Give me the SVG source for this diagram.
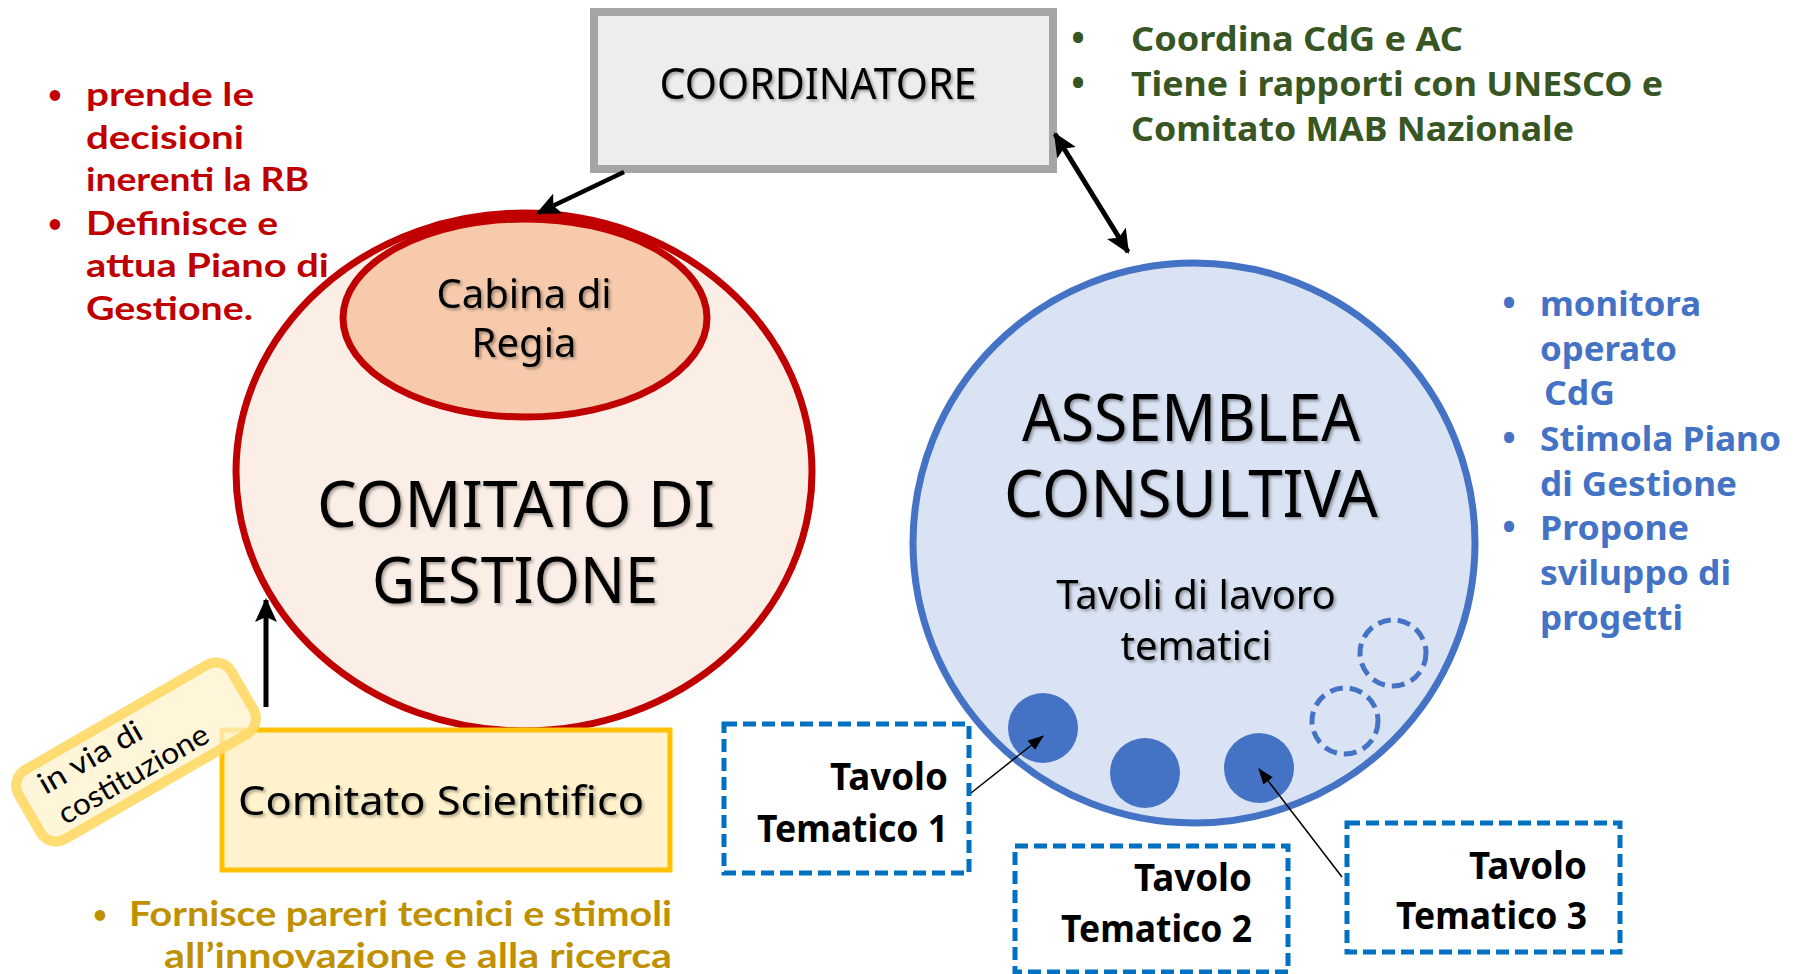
<svg xmlns="http://www.w3.org/2000/svg" width="1795" height="974" viewBox="0 0 1795 974">
<defs>
<filter id="sh" x="-10%" y="-20%" width="120%" height="140%">
<feDropShadow dx="2" dy="2" stdDeviation="1.5" flood-color="#000" flood-opacity="0.35"/>
</filter>
<marker id="ah" markerUnits="userSpaceOnUse" markerWidth="24" markerHeight="22" refX="22" refY="11" orient="auto-start-reverse">
<path d="M0,0 L24,11 L0,22 L5,11 Z" fill="#000"/>
</marker>
<marker id="as" markerUnits="userSpaceOnUse" markerWidth="16" markerHeight="12" refX="15" refY="6" orient="auto">
<path d="M0,0 L16,6 L0,12 Z" fill="#000"/>
</marker>
<style>
.lbl{font-family:"Noto Sans","Open Sans",sans-serif;fill:#000;text-anchor:middle}
.red{font-family:Lato,"Noto Sans",sans-serif;font-weight:bold;fill:#c00000;font-size:33px}
.grn{font-family:"Noto Sans","Open Sans",sans-serif;font-weight:bold;fill:#375623;font-size:34px}
.blu{font-family:"Noto Sans","Open Sans",sans-serif;font-weight:bold;fill:#4472c4;font-size:34px}
.gld{font-family:Lato,"Noto Sans",sans-serif;font-weight:bold;fill:#bf9000;font-size:34px}
.bul{font-size:24px;text-anchor:middle}
.bul2{font-size:36px;text-anchor:middle}
.tav{font-family:"Noto Sans","Open Sans",sans-serif;font-weight:bold;fill:#000;font-size:37px;text-anchor:end}
.dbox{fill:#fff;stroke:#0070c0;stroke-width:5;stroke-dasharray:13 6}
.dot{fill:#4472c4}
.dcirc{fill:none;stroke:#4472c4;stroke-width:5;stroke-dasharray:13 7}
</style>
</defs>

<g id="comitato-gestione">
<ellipse cx="524" cy="472" rx="288" ry="259" fill="#fbeee6" stroke="#c00000" stroke-width="7"/>
<text class="lbl" filter="url(#sh)" font-size="64" x="516" y="527" textLength="398" lengthAdjust="spacingAndGlyphs">COMITATO DI</text>
<text class="lbl" filter="url(#sh)" font-size="64" x="515" y="603" textLength="286" lengthAdjust="spacingAndGlyphs">GESTIONE</text>
</g>

<g id="cabina-regia">
<ellipse cx="525" cy="318" rx="182" ry="99" fill="#f7caac" stroke="#c00000" stroke-width="7"/>
<text class="lbl" filter="url(#sh)" font-size="40" x="524" y="308">Cabina di</text>
<text class="lbl" filter="url(#sh)" font-size="40" x="524" y="357">Regia</text>
</g>

<g id="coordinatore">
<rect x="594" y="12" width="459" height="157" fill="#ededed" stroke="#a5a5a5" stroke-width="8"/>
<text class="lbl" filter="url(#sh)" font-size="43" x="818" y="99" textLength="317" lengthAdjust="spacingAndGlyphs">COORDINATORE</text>
</g>

<g id="assemblea-consultiva">
<ellipse cx="1194" cy="543" rx="281" ry="280" fill="#dae3f3" stroke="#4472c4" stroke-width="7"/>
<text class="lbl" filter="url(#sh)" font-size="66" x="1191" y="441" textLength="338" lengthAdjust="spacingAndGlyphs">ASSEMBLEA</text>
<text class="lbl" filter="url(#sh)" font-size="66" x="1191" y="517" textLength="374" lengthAdjust="spacingAndGlyphs">CONSULTIVA</text>
<text class="lbl" filter="url(#sh)" font-size="40" x="1196" y="609">Tavoli di lavoro</text>
<text class="lbl" filter="url(#sh)" font-size="40" x="1196" y="660">tematici</text>
<ellipse class="dot" cx="1043" cy="728" rx="35" ry="35"/>
<ellipse class="dot" cx="1145" cy="773" rx="35" ry="35"/>
<ellipse class="dot" cx="1259" cy="768" rx="35" ry="35"/>
<ellipse class="dcirc" cx="1345" cy="721" rx="33" ry="33"/>
<ellipse class="dcirc" cx="1393" cy="653" rx="33" ry="33"/>
</g>

<g id="comitato-scientifico">
<rect x="222" y="730" width="448" height="140" fill="#fff2cc" stroke="#ffc000" stroke-width="5"/>
<text class="lbl" filter="url(#sh)" font-family="Lato,'Noto Sans',sans-serif" font-size="40" x="441" y="815" textLength="406" lengthAdjust="spacingAndGlyphs">Comitato Scientifico</text>
</g>

<g id="in-via-di-costituzione" transform="translate(136,752) rotate(-30)">
<rect x="-123" y="-40" width="246" height="80" rx="18" fill="#fff2cc" fill-opacity="0.75" stroke="#ffd966" stroke-width="10" stroke-opacity="0.9"/>
<text font-family="Lato,'Noto Sans',sans-serif" font-size="30" fill="#000" x="-100" y="-8" textLength="115" lengthAdjust="spacingAndGlyphs">in via di</text>
<text font-family="Lato,'Noto Sans',sans-serif" font-size="30" fill="#000" x="-98" y="28" textLength="169" lengthAdjust="spacingAndGlyphs">costituzione</text>
</g>

<g id="tavolo-1">
<rect class="dbox" x="724" y="724" width="245" height="149"/>
<text class="tav" x="948" y="790" textLength="118" lengthAdjust="spacingAndGlyphs">Tavolo</text>
<text class="tav" x="948" y="842" textLength="191" lengthAdjust="spacingAndGlyphs">Tematico 1</text>
</g>
<g id="tavolo-2">
<rect class="dbox" x="1015" y="846" width="273" height="126"/>
<text class="tav" x="1252" y="891" textLength="118" lengthAdjust="spacingAndGlyphs">Tavolo</text>
<text class="tav" x="1252" y="942" textLength="191" lengthAdjust="spacingAndGlyphs">Tematico 2</text>
</g>
<g id="tavolo-3">
<rect class="dbox" x="1347" y="823" width="273" height="129"/>
<text class="tav" x="1587" y="879" textLength="118" lengthAdjust="spacingAndGlyphs">Tavolo</text>
<text class="tav" x="1587" y="929" textLength="191" lengthAdjust="spacingAndGlyphs">Tematico 3</text>
</g>

<g id="connectors" fill="none" stroke="#000">
<line x1="624" y1="172" x2="538" y2="213" stroke-width="4.5" marker-end="url(#ah)"/>
<line x1="1055" y1="134" x2="1128" y2="252" stroke-width="5" marker-start="url(#ah)" marker-end="url(#ah)"/>
<line x1="266" y1="707" x2="266" y2="600" stroke-width="5" marker-end="url(#ah)"/>
<line x1="971" y1="793" x2="1043" y2="736" stroke-width="1.5" marker-end="url(#as)"/>
<line x1="1342" y1="877" x2="1259" y2="769" stroke-width="1.5" marker-end="url(#as)"/>
</g>

<g id="note-gestione">
<text class="red bul" x="55" y="103">•</text><text class="red" x="86" y="106" textLength="168" lengthAdjust="spacingAndGlyphs">prende le</text>
<text class="red" x="86" y="149" textLength="158" lengthAdjust="spacingAndGlyphs">decisioni</text>
<text class="red" x="86" y="191" textLength="223" lengthAdjust="spacingAndGlyphs">inerenti la RB</text>
<text class="red bul" x="55" y="232">•</text><text class="red" x="86" y="235" textLength="192" lengthAdjust="spacingAndGlyphs">Definisce e</text>
<text class="red" x="86" y="277" textLength="243" lengthAdjust="spacingAndGlyphs">attua Piano di</text>
<text class="red" x="86" y="320" textLength="167" lengthAdjust="spacingAndGlyphs">Gestione.</text>
</g>

<g id="note-coordinatore">
<text class="grn bul2" x="1078" y="51">•</text><text class="grn" x="1131" y="51" textLength="332" lengthAdjust="spacingAndGlyphs">Coordina CdG e AC</text>
<text class="grn bul2" x="1078" y="96">•</text><text class="grn" x="1131" y="96" textLength="532" lengthAdjust="spacingAndGlyphs">Tiene i rapporti con UNESCO e</text>
<text class="grn" x="1131" y="141" textLength="443" lengthAdjust="spacingAndGlyphs">Comitato MAB Nazionale</text>
</g>

<g id="note-assemblea">
<text class="blu bul2" x="1509" y="316">•</text><text class="blu" x="1540" y="316" textLength="161" lengthAdjust="spacingAndGlyphs">monitora</text>
<text class="blu" x="1540" y="361" textLength="137" lengthAdjust="spacingAndGlyphs">operato</text>
<text class="blu" x="1544" y="405" textLength="71" lengthAdjust="spacingAndGlyphs">CdG</text>
<text class="blu bul2" x="1509" y="451">•</text><text class="blu" x="1540" y="451" textLength="241" lengthAdjust="spacingAndGlyphs">Stimola Piano</text>
<text class="blu" x="1540" y="496" textLength="197" lengthAdjust="spacingAndGlyphs">di Gestione</text>
<text class="blu bul2" x="1509" y="540">•</text><text class="blu" x="1540" y="540" textLength="149" lengthAdjust="spacingAndGlyphs">Propone</text>
<text class="blu" x="1540" y="585" textLength="191" lengthAdjust="spacingAndGlyphs">sviluppo di</text>
<text class="blu" x="1540" y="630" textLength="143" lengthAdjust="spacingAndGlyphs">progetti</text>
</g>

<g id="note-scientifico">
<text class="gld bul" x="100" y="923">•</text><text class="gld" x="129" y="926" textLength="543" lengthAdjust="spacingAndGlyphs">Fornisce pareri tecnici e stimoli</text>
<text class="gld" x="164" y="968" textLength="508" lengthAdjust="spacingAndGlyphs">all’innovazione e alla ricerca</text>
</g>
</svg>
